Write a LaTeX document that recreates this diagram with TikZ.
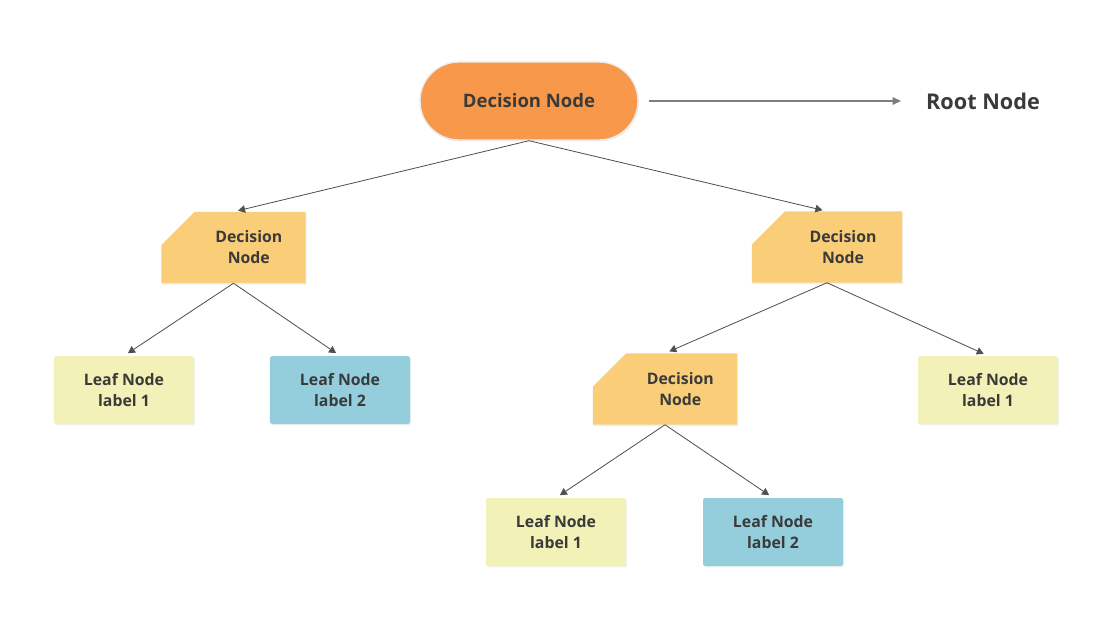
\documentclass[tikz,border=0pt]{standalone}
\usepackage{fontspec}
\setmainfont{Open Sans}
\usetikzlibrary{arrows.meta, backgrounds, shadows}
\definecolor{rootorange}{RGB}{247,152,74}
\definecolor{decyellow}{RGB}{250,206,120}
\definecolor{leafyellow}{RGB}{242,241,184}
\definecolor{leafblue}{RGB}{148,205,220}
\definecolor{edgegray}{RGB}{80,80,80}
\definecolor{arrowgray}{RGB}{125,125,125}
\definecolor{textgray}{RGB}{58,58,58}
\tikzset{every node/.style={text=textgray,align=center,font=\bfseries\fontsize{13.5}{17.9}\selectfont},
         bigtext/.style={font=\bfseries\fontsize{15.8}{18}\selectfont},
         softshadow/.style={drop shadow={opacity=0.12,shadow xshift=0.8pt,shadow yshift=-1.2pt}},
         rootnode/.style={bigtext,fill=rootorange,draw=black!8,line width=1.2pt,rounded corners=1.17cm,
                          minimum width=6.54cm,minimum height=2.34cm,softshadow},
         decision/.style={minimum width=4.32cm,minimum height=2.13cm,inner sep=0pt},
         leaf/.style={rounded corners=2pt,minimum width=4.2cm,minimum height=2.04cm,softshadow},
         leafone/.style={leaf,fill=leafyellow},
         leaftwo/.style={leaf,fill=leafblue},
         branch/.style={draw=edgegray,line width=0.7pt,-{Triangle[length=6pt,width=6.5pt]},shorten >=4pt},
         rootarrow/.style={draw=arrowgray,line width=0.9pt,-{Triangle[length=7pt,width=6.5pt]}}}

\begin{document}
\begin{tikzpicture}[x=0.03cm,y=-0.03cm]
    \useasboundingbox(0,0)rectangle(1110,636);

    \node[rootnode](root)at(529,101){Decision Node};
    \node[font=\bfseries\fontsize{18.5}{20}\selectfont, inner sep=0pt](rootlbl)at(983,101){Root Node};

    \node[decision, label={[xshift=0.46cm]center:Decision\\Node}](dl)at(233.5,247.5){};
    \node[decision, minimum width=4.5cm, label={[xshift=0.48cm]center:Decision\\Node}](dr)at(827,247){};
    \node[decision, label={[xshift=0.46cm]center:Decision\\Node}](dm)at(665,389){};

    \node[leafone](l1)at(124,390){Leaf Node\\label 1};
    \node[leaftwo](l2)at(340,390){Leaf Node\\label 2};
    \node[leafone](r1)at(988,390){Leaf Node\\label 1};
    \node[leafone](b1)at(556,532){Leaf Node\\label 1};
    \node[leaftwo](b2)at(773,532){Leaf Node\\label 2};

    \begin{scope}[on background layer]
        \foreach \d in {dl,dr,dm}
            \fill[decyellow,softshadow]([yshift=-1cm]\d.north west)--([xshift=1cm]\d.north west)
                --(\d.north east)--(\d.south east)--(\d.south west)--cycle;
    \end{scope}

    \draw[rootarrow]([xshift=0.3cm]root.east)--([xshift=-0.75cm]rootlbl.west);

    \draw[branch](root.south)--(dl.north);
    \draw[branch](root.south)--(dr.north);
    \draw[branch](dl.south)--(l1.north);
    \draw[branch](dl.south)--(l2.north);
    \draw[branch](dr.south)--(dm.north);
    \draw[branch](dr.south)--(r1.north);
    \draw[branch](dm.south)--(b1.north);
    \draw[branch](dm.south)--(b2.north);
\end{tikzpicture}
\end{document}
